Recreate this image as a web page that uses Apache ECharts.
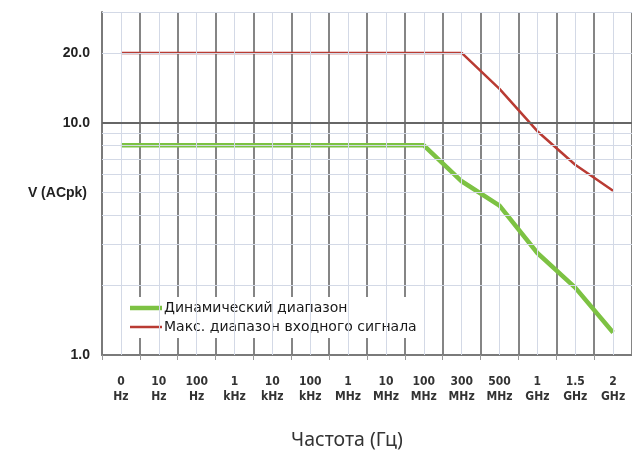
<!DOCTYPE html>
<html>
<head>
<meta charset="utf-8">
<script src="https://cdn.jsdelivr.net/npm/echarts@6/dist/echarts.min.js"></script>
<style>
  * { margin: 0; padding: 0; }
  body { background: #fff; }
  #main { width: 632px; height: 452px; }
</style>
</head>
<body>
<div id="main"></div>
<script>
// частоты по оси X
var categories = ['0 Hz', '10 Hz', '100 Hz', '1 kHz', '10 kHz', '100 kHz', '1 MHz', '10 MHz',
  '100 MHz', '300 MHz', '500 MHz', '1 GHz', '1.5 GHz', '2 GHz'];
// Динамический диапазон, V
var dynamicRange = [8, 8, 8, 8, 8, 8, 8, 8, 8, 5.6, 4.4, 2.75, 1.95, 1.25];
// Макс. диапазон входного сигнала, V
var maxInput = [20, 20, 20, 20, 20, 20, 20, 20, 20, 20, 14, 9.2, 6.6, 5.1];
// подписи оси Y
var yTickLabels = [1, 10, 20];
var yMinorGrid = [2, 3, 4, 5, 6, 7, 8, 9, 20, 30];
var yMajorGrid = [10];
var yTitleAt = 5;

var seriesNames = ['Динамический диапазон', 'Макс. диапазон входного сигнала'];

var chart = echarts.init(document.getElementById('main'));

var lightLine = { color: '#d3d9e6', width: 1, type: 'solid' };
var labelFont = { fontFamily: 'Liberation Sans, sans-serif', fontWeight: 'bold', fontSize: 14, color: '#222' };

chart.setOption({
  animation: false,
  grid: [
    { left: 102, top: 12, width: 532, bottom: 97 },
    { left: 102, top: 12, width: 532, bottom: 97 }
  ],
  legend: {
    // иконки-линии разной толщины (пустые M-точки задают рамку 32x14)
    data: [
      { name: seriesNames[0], icon: 'path://M0,0M32,14M0,4.75H32V9.25H0Z' },
      { name: seriesNames[1], icon: 'path://M0,0M32,14M0,5.75H32V8.25H0Z' }
    ],
    orient: 'vertical',
    left: 127,
    top: 297,
    padding: [4, 10, 4, 3],
    itemGap: 5,
    itemWidth: 32,
    itemHeight: 14,
    backgroundColor: '#fff',
    textStyle: { fontFamily: 'DejaVu Sans', fontSize: 14, color: '#1a1a1a', padding: [0, 0, 0, -3] }
  },
  xAxis: [
    {
      type: 'category',
      gridIndex: 0,
      data: categories,
      boundaryGap: true,
      axisLine: { lineStyle: { color: '#7a7a7a', width: 2 } },
      axisTick: { show: true, length: 5, lineStyle: { color: '#999' } },
      axisLabel: {
        margin: 19,
        fontFamily: 'Liberation Sans Narrow, DejaVu Sans Condensed, sans-serif',
        fontWeight: 'bold',
        fontSize: 12,
        lineHeight: 15,
        color: '#333',
        formatter: function (v) { return v.replace(' ', '\n'); }
      },
      splitLine: { show: true, lineStyle: { color: '#858585', width: 2 } }
    },
    {
      type: 'category',
      gridIndex: 1,
      data: categories,
      show: false
    }
  ],
  yAxis: [
    {
      type: 'log',
      gridIndex: 0,
      min: 1,
      max: 30,
      logBase: 10,
      axisLine: { show: true, lineStyle: { color: '#7a7a7a', width: 2 } },
      axisTick: { show: false },
      axisLabel: Object.assign({
        margin: 12,
        showMaxLabel: false,
        formatter: function (v) { return yTickLabels.indexOf(v) >= 0 ? v.toFixed(1) : ''; }
      }, labelFont),
      splitLine: { show: false }
    },
    { type: 'log', gridIndex: 1, min: 1, max: 30, show: false }
  ],
  graphic: [{
    type: 'text',
    x: 347,
    y: 440,
    style: {
      text: 'Частота (Гц)',
      align: 'center',
      verticalAlign: 'middle',
      fontFamily: 'Noto Sans',
      fontSize: 19.5,
      fill: '#333'
    }
  }],
  series: [
    {
      // сетка
      name: 'grid',
      type: 'line',
      xAxisIndex: 1,
      yAxisIndex: 1,
      data: [],
      z: 1,
      silent: true,
      markLine: {
        silent: true,
        symbol: 'none',
        animation: false,
        label: { show: false },
        lineStyle: lightLine,
        data: categories.map(function (c) { return { xAxis: c }; })
          .concat(yMinorGrid.map(function (v) { return { yAxis: v }; }))
          .concat(yMajorGrid.map(function (v) {
            return { yAxis: v, lineStyle: { color: '#666', width: 2 } };
          }))
          .concat([
            {
              yAxis: 20,
              label: Object.assign({ show: true, position: 'start', distance: 12, formatter: '20.0' }, labelFont)
            },
            {
              yAxis: yTitleAt,
              label: Object.assign({ show: true, position: 'start', distance: 15, formatter: 'V (ACpk)' }, labelFont)
            }
          ])
      }
    },
    {
      name: seriesNames[0],
      type: 'line',
      data: dynamicRange,
      symbol: 'none',
      z: 4,
      lineStyle: { color: '#7dc243', width: 4.5 },
      itemStyle: { color: '#7dc243' }
    },
    {
      name: seriesNames[1],
      type: 'line',
      data: maxInput,
      symbol: 'none',
      z: 3,
      lineStyle: { color: '#b93b33', width: 2.5 },
      itemStyle: { color: '#b93b33' }
    }
  ]
});
</script>
</body>
</html>
